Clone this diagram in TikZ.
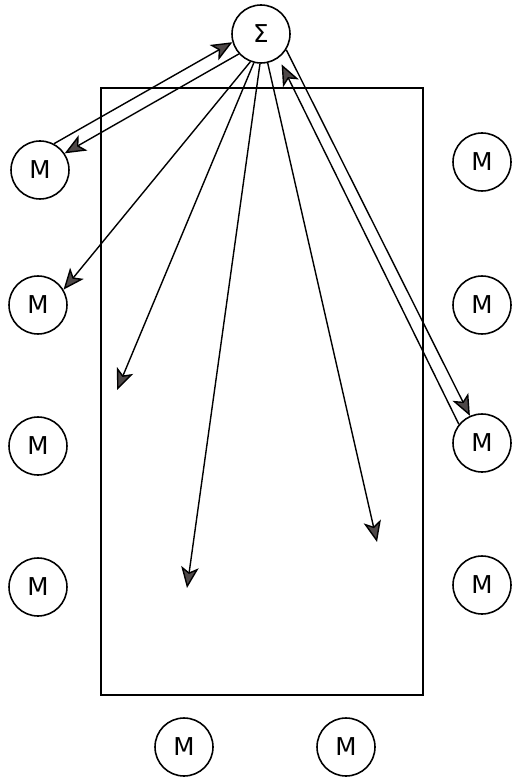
\documentclass[tikz,border=0pt]{standalone}
\usepackage{fontspec}
\setmainfont{DejaVu Sans}
\usetikzlibrary{arrows.meta}

\definecolor{headgray}{RGB}{78,72,72}

\begin{document}
\begin{tikzpicture}[x=0.02cm,y=-0.02cm,
  mnode/.style={draw,circle,line width=0.9pt,minimum size=1.16cm,inner sep=0pt,font=\fontsize{14}{15}\selectfont},
  arr/.style={line width=0.8pt,-{Stealth[length=12pt,width=10pt,inset=3pt,fill=headgray]}}]

\useasboundingbox (0,0) rectangle (511,780);

\draw [line width=0.9pt] (101,88) rectangle (423,695);

\node[mnode] (sig) at (261,34) {Σ};

\node[mnode] (l1) at (40,170) {M};
\node[mnode] (l2) at (38,305) {M};
\node[mnode] (l3) at (38,446) {M};
\node[mnode] (l4) at (38,587) {M};

\node[mnode] (r1) at (482,162) {M};
\node[mnode] (r2) at (482,305) {M};
\node[mnode] (r3) at (482,443) {M};
\node[mnode] (r4) at (482,585) {M};

\node[mnode] (b1) at (184,747) {M};
\node[mnode] (b2) at (346,747) {M};

\coordinate (p1) at (117,390);
\coordinate (p2) at (187,588);
\coordinate (p3) at (377,542);

\draw [arr] (l1.62) -- (sig.196);
\draw [arr] (sig.222) -- (l1.34);
\draw [arr] (sig.249) -- (l2.31);
\draw [arr] (sig.256) -- (p1);
\draw [arr] (sig.268) -- (p2);
\draw [arr] (sig.283) -- (p3);
\draw [arr] (sig.328) -- (r3.114);
\draw [arr,shorten >=4pt] (r3.141) -- (sig.306);

\end{tikzpicture}
\end{document}
